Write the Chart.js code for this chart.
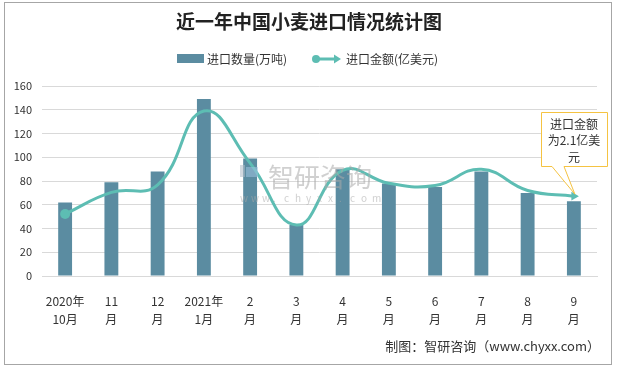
<!DOCTYPE html>
<html>
<head>
<meta charset="utf-8">
<script src="https://cdn.jsdelivr.net/npm/chart.js@4/dist/chart.umd.min.js"></script>
<style>
  html, body { margin: 0; padding: 0; background: #fff; }
  #wrap { width: 617px; height: 368px; }
</style>
</head>
<body>
<div id="wrap"><canvas id="chartWheat"></canvas></div>
<script>
// ---- data ----
const months = [
    ['2020年', '10月'], ['11', '月'], ['12', '月'], ['2021年', '1月'],
    ['2', '月'], ['3', '月'], ['4', '月'], ['5', '月'],
    ['6', '月'], ['7', '月'], ['8', '月'], ['9', '月']
];
const volume = [62, 79, 88, 149, 99, 43, 90, 78, 75, 88, 70, 63];       // 万吨
const amount = [1.63, 2.2, 2.4, 4.34, 2.97, 1.34, 2.78, 2.44, 2.38, 2.81, 2.25, 2.1]; // 亿美元
const volumeTicks = [0, 20, 40, 60, 80, 100, 120, 140, 160];
const titleText = '近一年中国小麦进口情况统计图';
const sourceText = '制图：智研咨询（www.chyxx.com）';
const noteLines = ['进口金额', '为2.1亿美', '元'];

const colors = {
    bar: '#5b8ca1',
    line: '#5dbdb3',
    grid: '#d9d9d9',
    text: '#333333'
};
const cjk = '"Noto Sans CJK SC", "Microsoft YaHei", sans-serif';

// ---- frame, title, legend, watermark, callout ----
const decorations = {
    id: 'decorations',
    beforeDraw(chart) {
        const ctx = chart.ctx;
        ctx.save();
        ctx.fillStyle = '#fff';
        ctx.fillRect(0, 0, chart.width, chart.height);
        ctx.strokeStyle = '#a6a6a6';
        ctx.lineWidth = 1;
        ctx.strokeRect(4.5, 2.5, 607, 362);

        // title
        ctx.fillStyle = '#222';
        ctx.font = 'bold 19px ' + cjk;
        ctx.textAlign = 'center';
        ctx.textBaseline = 'middle';
        ctx.fillText(titleText, 309, 22);

        // legend
        ctx.font = '12px ' + cjk;
        ctx.textAlign = 'left';
        ctx.fillStyle = colors.bar;
        ctx.fillRect(177, 54, 27, 9);
        ctx.fillStyle = colors.text;
        ctx.fillText(chart.data.datasets[0].label, 207, 59);

        ctx.strokeStyle = colors.line;
        ctx.fillStyle = colors.line;
        ctx.lineWidth = 3;
        ctx.beginPath();
        ctx.moveTo(316, 59);
        ctx.lineTo(336, 59);
        ctx.stroke();
        ctx.beginPath();
        ctx.arc(316, 59, 4, 0, Math.PI * 2);
        ctx.fill();
        ctx.beginPath();
        ctx.moveTo(341, 59);
        ctx.lineTo(334, 54.5);
        ctx.lineTo(334, 63.5);
        ctx.closePath();
        ctx.fill();
        ctx.fillStyle = colors.text;
        ctx.fillText(chart.data.datasets[1].label, 346, 59);

        // source
        ctx.font = '13px ' + cjk;
        ctx.textAlign = 'right';
        ctx.fillText(sourceText, 600, 346);
        ctx.restore();
    },
    afterDatasetsDraw(chart) {
        const ctx = chart.ctx;
        ctx.save();
        // watermark
        ctx.globalAlpha = 0.55;
        ctx.fillStyle = '#aeb9c6';
        ctx.fillRect(240, 165, 5, 12);
        ctx.fillStyle = '#9ec3e0';
        ctx.fillRect(246, 167, 12, 10);
        ctx.fillStyle = '#aaaaaa';
        ctx.font = '26px ' + cjk;
        ctx.textAlign = 'left';
        ctx.textBaseline = 'middle';
        ctx.fillText('智研咨询', 268, 177);
        ctx.font = '10px ' + cjk;
        const url = 'www.chyxx.com';
        for (let i = 0; i < url.length; i++) {
            ctx.fillText(url[i], 240 + i * 11, 198);
        }
        ctx.restore();

        // callout at the last line point
        const meta = chart.getDatasetMeta(1);
        const p = meta.data[meta.data.length - 1];
        const bx = 541, by = 112, bw = 66, bh = 54;
        ctx.save();
        ctx.fillStyle = '#fff';
        ctx.strokeStyle = '#f5c342';
        ctx.lineWidth = 1;
        ctx.beginPath();
        ctx.moveTo(bx + 0.5, by + 0.5);
        ctx.lineTo(bx + bw + 0.5, by + 0.5);
        ctx.lineTo(bx + bw + 0.5, by + bh + 0.5);
        ctx.lineTo(bx + 23, by + bh + 0.5);
        ctx.lineTo(p.x + 1, p.y - 2);
        ctx.lineTo(bx + 11, by + bh + 0.5);
        ctx.lineTo(bx + 0.5, by + bh + 0.5);
        ctx.closePath();
        ctx.fill();
        ctx.stroke();
        ctx.fillStyle = colors.text;
        ctx.font = '12px ' + cjk;
        ctx.textAlign = 'center';
        ctx.textBaseline = 'middle';
        noteLines.forEach((t, i) => ctx.fillText(t, bx + bw / 2, by + 12 + i * 16.5));
        ctx.restore();
    }
};

const n = amount.length;
new Chart(document.getElementById('chartWheat'), {
    type: 'bar',
    data: {
        labels: months,
        datasets: [
            {
                label: '进口数量(万吨)',
                data: volume,
                backgroundColor: colors.bar,
                barPercentage: 0.6,
                categoryPercentage: 0.5,
                yAxisID: 'y',
                order: 2
            },
            {
                type: 'line',
                label: '进口金额(亿美元)',
                data: amount,
                borderColor: colors.line,
                backgroundColor: colors.line,
                borderWidth: 3,
                tension: 0.45,
                pointStyle: amount.map((v, i) => i === n - 1 ? 'triangle' : 'circle'),
                pointRotation: amount.map((v, i) => i === n - 1 ? 90 : 0),
                pointRadius: amount.map((v, i) => i === 0 ? 5 : (i === n - 1 ? 5 : 0)),
                pointBorderWidth: 0,
                yAxisID: 'y1',
                order: 1
            }
        ]
    },
    options: {
        responsive: true,
        maintainAspectRatio: false,
        animation: false,
        layout: { padding: { left: 4, right: 20, top: 86, bottom: 40 } },
        plugins: {
            legend: { display: false },
            title: { display: false },
            tooltip: { enabled: false }
        },
        scales: {
            x: {
                grid: { display: false },
                border: { color: colors.grid },
                ticks: {
                    color: colors.text,
                    font: { family: cjk, size: 12, lineHeight: 1.5 },
                    maxRotation: 0,
                    autoSkip: false,
                    padding: 8
                },
                afterFit: s => { s.height = 52; }
            },
            y: {
                min: 0,
                max: 160,
                afterBuildTicks: s => { s.ticks = volumeTicks.map(v => ({ value: v })); },
                grid: { color: colors.grid, drawTicks: false },
                border: { display: false },
                ticks: {
                    color: colors.text,
                    font: { family: cjk, size: 11 },
                    padding: 10
                },
                afterFit: s => { s.width = 38; }
            },
            y1: {
                display: false,
                min: 0,
                max: 5
            }
        }
    },
    plugins: [decorations]
});
</script>
</body>
</html>
